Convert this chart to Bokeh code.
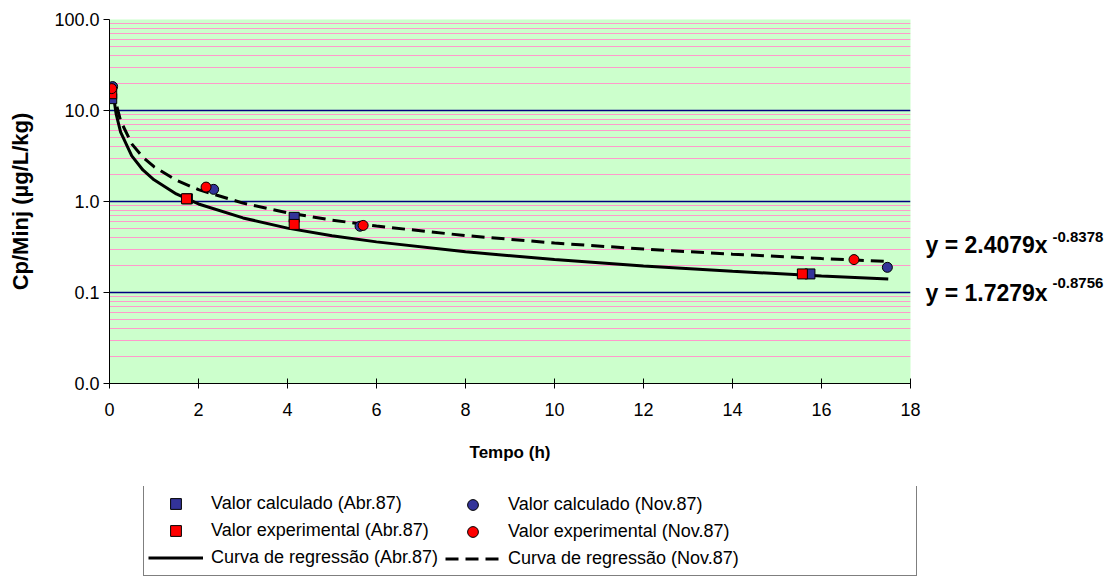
from bokeh.plotting import figure
from bokeh.models import (Range1d, FixedTicker, CustomJSTickFormatter, Legend,
                          LegendItem, LogAxis)
from bokeh.layouts import column
from bokeh.embed import file_html
from bokeh.resources import INLINE

# ---- data ----
abr_calc_t = [0.05, 1.75, 4.15, 15.74]
abr_calc_c = [13.5, 1.07, 0.67, 0.160]
abr_exp_t = [0.05, 1.73, 4.15, 15.57]
abr_exp_c = [15.3, 1.07, 0.56, 0.160]
nov_calc_t = [0.07, 2.34, 5.63, 17.48]
nov_calc_c = [18.3, 1.36, 0.535, 0.189]
nov_exp_t = [0.05, 2.17, 5.70, 16.73]
nov_exp_c = [17.4, 1.44, 0.546, 0.230]

curve_t = [0.083, 0.15, 0.25, 0.5, 0.75, 1, 1.5, 2, 3, 4, 5, 6, 8, 10, 12, 14, 16, 17.5]
abr_curve = [15.3, 9.1, 5.8, 3.17, 2.22, 1.73, 1.21, 0.94, 0.66, 0.51, 0.42, 0.36,
             0.28, 0.23, 0.196, 0.171, 0.152, 0.141]
nov_curve_t = [0.09, 0.15, 0.25, 0.5, 0.75, 1, 1.5, 2, 3, 4, 5, 6, 8, 10, 12, 14, 16, 17.5]
nov_curve = [18.1, 11.8, 7.7, 4.30, 3.07, 2.41, 1.71, 1.35, 0.96, 0.75, 0.625, 0.537,
             0.422, 0.35, 0.30, 0.264, 0.236, 0.219]

x_ticks = [0, 2, 4, 6, 8, 10, 12, 14, 16, 18]
y_ticks = [0.01, 0.1, 1, 10, 100]
y_minor = [m * d for d in [0.01, 0.1, 1, 10] for m in range(2, 10)]

# regression equations (text, level on the y axis where it is written)
eq_texts = ["y = 2.4079x", "y = 1.7279x"]
eq_levels = [0.33, 0.1]
eq_exps = ["-0.8378", "-0.8756"]
eq_exp_levels = [0.405, 0.128]

legend_abr = ["Valor calculado (Abr.87)", "Valor experimental (Abr.87)",
              "Curva de regressão (Abr.87)"]
legend_nov = ["Valor calculado (Nov.87)", "Valor experimental (Nov.87)",
              "Curva de regressão (Nov.87)"]

FONT = "Liberation Sans"
BLUE = "#333399"
RED = "#FF0000"

p = figure(frame_width=801, frame_height=364, min_border_left=109, min_border_right=202,
           min_border_top=19, min_border_bottom=103,
           x_range=Range1d(0, 18), y_range=Range1d(0.01, 100), y_axis_type="log",
           output_backend="svg", toolbar_location=None)

p.background_fill_color = "#CCFFCC"
p.border_fill_color = "white"
p.outline_line_color = None

# axes
p.xaxis.ticker = FixedTicker(ticks=x_ticks)
p.yaxis.ticker = FixedTicker(ticks=y_ticks, minor_ticks=y_minor)
p.yaxis.formatter = CustomJSTickFormatter(code="return tick.toFixed(1);")
for ax in (p.xaxis[0], p.yaxis[0]):
    ax.axis_line_color = "black"
    ax.major_tick_line_color = "black"
    ax.minor_tick_line_color = None
    ax.major_label_text_font = FONT
    ax.major_label_text_font_size = "18px"
    ax.major_label_text_color = "black"
    ax.axis_label_text_font = FONT
    ax.axis_label_text_font_style = "bold"
    ax.axis_label_text_color = "black"
p.xaxis.axis_label_text_font_size = "17px"
p.yaxis.axis_label_text_font_size = "22px"
p.xaxis.major_tick_in = 5
p.xaxis.major_tick_out = 5
p.yaxis.major_tick_in = 0
p.yaxis.major_tick_out = 6
p.xaxis.major_label_standoff = 14
p.yaxis.major_label_standoff = 4
p.xaxis.axis_label = "Tempo (h)"
p.yaxis.axis_label = "Cp/Minj (µg/L/kg)"
p.xaxis.axis_label_standoff = 24
p.yaxis.axis_label_standoff = 18

# grids
p.xgrid.grid_line_color = None
p.ygrid.grid_line_color = "#000080"
p.ygrid.grid_line_width = 1.5
p.ygrid.minor_grid_line_color = "#FF99CC"
p.ygrid.minor_grid_line_width = 1

# regression equations as labels of invisible right-hand axes
def label_axis(levels, texts, size, standoff):
    ax = LogAxis(ticker=FixedTicker(ticks=levels),
                 formatter=CustomJSTickFormatter(
                     args=dict(lv=levels, tx=texts),
                     code="const i = lv.indexOf(tick); return i >= 0 ? tx[i] : '';"),
                 axis_line_color=None, major_tick_line_color=None,
                 minor_tick_line_color=None, major_tick_in=0, major_tick_out=0,
                 major_label_standoff=standoff, major_label_text_font=FONT,
                 major_label_text_font_style="bold", major_label_text_font_size=size,
                 major_label_text_color="black")
    p.add_layout(ax, "right")

label_axis(eq_levels, eq_texts, "23px", 15)
label_axis(eq_exp_levels, eq_exps, "15px", 2)

def draw(fig):
    r_abr_line = fig.line(curve_t, abr_curve, line_color="black", line_width=3)
    r_nov_line = fig.line(nov_curve_t, nov_curve, line_color="black", line_width=3,
                          line_dash="13 7")
    r_abr_calc = fig.scatter(abr_calc_t, abr_calc_c, marker="square", size=10,
                             fill_color=BLUE, line_color="black", line_width=1)
    r_nov_calc = fig.scatter(nov_calc_t, nov_calc_c, marker="circle", size=10,
                             fill_color=BLUE, line_color="black", line_width=1)
    r_abr_exp = fig.scatter(abr_exp_t, abr_exp_c, marker="square", size=10,
                            fill_color=RED, line_color="black", line_width=1)
    r_nov_exp = fig.scatter(nov_exp_t, nov_exp_c, marker="circle", size=10,
                            fill_color=RED, line_color="black", line_width=1)
    return ([r_abr_calc, r_abr_exp, r_abr_line], [r_nov_calc, r_nov_exp, r_nov_line])

draw(p)

# legend panel below the chart (its own glyphs lie outside its view)
lf = figure(frame_width=1003, frame_height=93, min_border_left=109, min_border_right=0,
            min_border_top=0, min_border_bottom=0,
            x_range=Range1d(1000, 1001), y_range=Range1d(1000, 1001),
            output_backend="svg", toolbar_location=None,
            x_axis_location=None, y_axis_location=None)
lf.outline_line_color = None
lf.background_fill_color = "white"
lf.border_fill_color = "white"
for g in lf.grid:
    g.visible = False
abr_r, nov_r = draw(lf)

common = dict(label_text_font=FONT, label_text_font_size="18px", label_text_color="black",
              glyph_width=55, glyph_height=27, label_height=27, label_standoff=8,
              spacing=0, padding=4, margin=0, border_line_width=1)
legA = Legend(items=[LegendItem(label=t, renderers=[r]) for t, r in zip(legend_abr, abr_r)],
              location=(34, 3), label_width=701,
              border_line_color="black",
              background_fill_color="white", background_fill_alpha=1, **common)
legB = Legend(items=[LegendItem(label=t, renderers=[r]) for t, r in zip(legend_nov, nov_r)],
              location=(332, 3), label_width=250,
              border_line_color="black", border_line_alpha=0,
              background_fill_color="white", background_fill_alpha=0, **common)
lf.add_layout(legA)
lf.add_layout(legB)

layout = column(p, lf, spacing=0)
open("out.html", "w").write(file_html(layout, INLINE))
